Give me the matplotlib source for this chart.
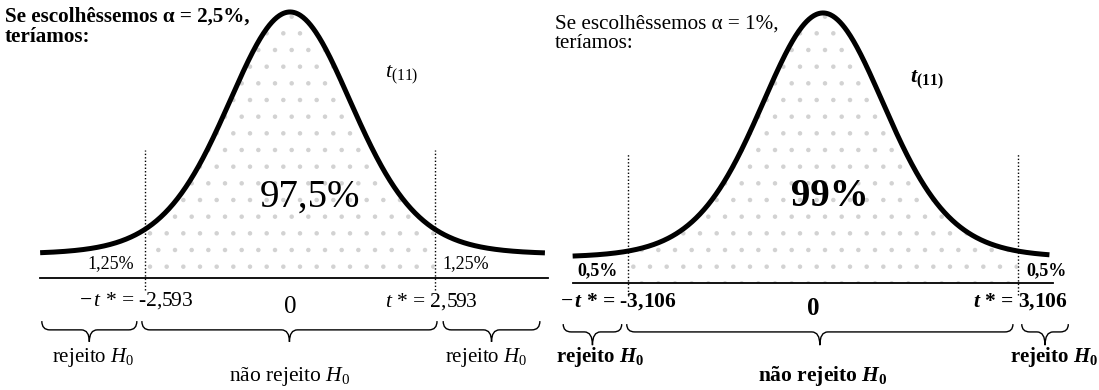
import math
import numpy as np
import matplotlib.pyplot as plt
from matplotlib.path import Path
from matplotlib.patches import PathPatch

plt.rcParams.update({
    "font.family": "Liberation Serif",
    "mathtext.fontset": "custom",
    "mathtext.rm": "Liberation Serif",
    "mathtext.it": "Liberation Serif:italic",
    "mathtext.bf": "Liberation Serif:bold",
    "mathtext.bfit": "Liberation Serif:italic:bold",
    "hatch.linewidth": 0.8,
})

# t distribution with 11 degrees of freedom, two significance levels
dof = 11
alphas = ["2,5%", "1%"]
t_star = [2.593, 3.106]
t_star_txt = ["2,593", "3,106"]
inside = ["97,5%", "99%"]
tails = ["1,25%", "0,5%"]
curve_range = [(-4.47, 4.56), (-3.98, 3.60)]

# drawing shape of each bell (horizontal stretch, tail floor)
stretch = [1.15, 1.02]
floor = [0.09, 0.095]


def t_pdf(x, v):
    c = math.gamma((v + 1) / 2) / (math.sqrt(v * math.pi) * math.gamma(v / 2))
    return c * (1 + x ** 2 / v) ** (-(v + 1) / 2)


def brace(ax, x0, x1, top, mid, tip, w):
    xm = (x0 + x1) / 2
    verts = [(x0, top), (x0, mid), (x0 + w, mid),
             (xm - w, mid), (xm, mid), (xm, tip),
             (xm, mid), (xm + w, mid),
             (x1 - w, mid), (x1, mid), (x1, top)]
    codes = [Path.MOVETO, Path.CURVE3, Path.CURVE3,
             Path.LINETO, Path.CURVE3, Path.CURVE3,
             Path.CURVE3, Path.CURVE3,
             Path.LINETO, Path.CURVE3, Path.CURVE3]
    ax.add_patch(PathPatch(Path(verts, codes), fill=False, lw=1.0, color="black"))


fig = plt.figure(figsize=(10.99, 3.9), dpi=100)

# panel layouts: axes rect, xlim, ylim, px per x unit
panels = [
    dict(rect=[0, 0, 0.5, 1], xlim=(-5.188, 4.642), ylim=(-0.421, 1.045), px=55.9,
         weight="normal", top_w="bold", top_xy=(0.009, 0.982), top_fs=15.2),
    dict(rect=[0.5, 0, 0.5, 1], xlim=(-4.348, 4.388), ylim=(-0.396, 1.048), px=62.9,
         weight="bold", top_w="normal", top_xy=(0.010, 0.962), top_fs=15.2),
]

# label positions (data coords) for each panel
lab = [
    dict(tail=(-3.2, 3.15, 0.053), neg=(-1.72, -0.083), pos=(3.36, -0.09),
         zero=(0.0, -0.11), big=(0.36, 0.305), tdist=(1.70, 0.763),
         br=(-0.162, -0.195, -0.24), br_x=[(-4.44, -2.74), (-2.65, 2.63), (2.74, 4.47)],
         rej=(-3.52, 3.50, -0.297), nrej=(0.0, -0.372), rej_ha="center"),
    dict(tail=(-3.59, 3.56, 0.046), neg=(-2.32, -0.07), pos=(3.90, -0.07),
         zero=(-0.15, -0.096), big=(0.11, 0.319), tdist=(1.38, 0.752),
         br=(-0.152, -0.181, -0.23), br_x=[(-4.13, -3.20), (-3.12, 3.02), (3.16, 3.90)],
         rej=(-3.55, 4.37, -0.272), nrej=(0.0, -0.345), rej_ha="right"),
]

for i, p in enumerate(panels):
    ax = fig.add_axes(p["rect"])
    ax.set_xlim(*p["xlim"])
    ax.set_ylim(*p["ylim"])
    ax.axis("off")
    L = lab[i]
    bold = p["weight"] == "bold"

    x = np.linspace(curve_range[i][0], curve_range[i][1], 600)
    y = floor[i] + (1 - floor[i]) * t_pdf(x / stretch[i], dof) / t_pdf(0, dof)

    # stippled acceptance region
    m = np.abs(x) <= t_star[i]
    ax.fill_between(x[m], 0, y[m], facecolor="none", edgecolor="#d2d2d2",
                    hatch=".", lw=0)
    ax.plot(x, y, color="black", lw=3.6, solid_capstyle="butt")
    ax.plot([x[0], x[-1] + 0.05], [0, 0], color="black", lw=1.3)
    ax.vlines([-t_star[i], t_star[i]], -0.045, 0.48, colors="black",
              linestyles=(0, (1, 1.5)), lw=1.0)

    ax.text(*p["top_xy"], f"Se escolhêssemos α = {alphas[i]},\nteríamos:",
            transform=ax.transAxes, ha="left", va="top", fontsize=p["top_fs"],
            fontweight=p["top_w"], linespacing=1.0)

    tsym = r"\mathbfit{t}" if bold else "t"
    sub = r"\mathbf{(11)}" if bold else "(11)"
    ax.text(*L["tdist"], rf"${tsym}_{{{sub}}}$", fontsize=16, ha="left", va="center")

    ax.text(*L["big"], inside[i], fontsize=28, ha="center", va="center",
            fontweight=p["weight"])
    for tx in L["tail"][:2]:
        ax.text(tx, L["tail"][2], tails[i], fontsize=13, ha="center",
                va="center", fontweight=p["weight"])

    ax.text(*L["neg"], rf"$-\,{tsym}$ * = -{t_star_txt[i]}", fontsize=15.5,
            ha="right", va="center", fontweight=p["weight"])
    ax.text(*L["pos"], rf"${tsym}$ * = {t_star_txt[i]}", fontsize=15.5,
            ha="right", va="center", fontweight=p["weight"])
    ax.text(*L["zero"], "0", fontsize=18, ha="center", va="center",
            fontweight=p["weight"])

    top, mid, tip = L["br"]
    w = 8 / p["px"]
    for x0, x1 in L["br_x"]:
        brace(ax, x0, x1, top, mid, tip, w)

    h0 = r"$\mathbfit{H}_{\mathbf{0}}$" if bold else r"$H_0$"
    ax.text(L["rej"][0], L["rej"][2], "rejeito " + h0, fontsize=15, ha="center",
            va="center", fontweight=p["weight"])
    ax.text(L["rej"][1], L["rej"][2], "rejeito " + h0, fontsize=15, ha=L["rej_ha"],
            va="center", fontweight=p["weight"])
    ax.text(*L["nrej"], "não rejeito " + h0, fontsize=15.5, ha="center",
            va="center", fontweight=p["weight"])

fig.savefig("out.png", dpi=100)
